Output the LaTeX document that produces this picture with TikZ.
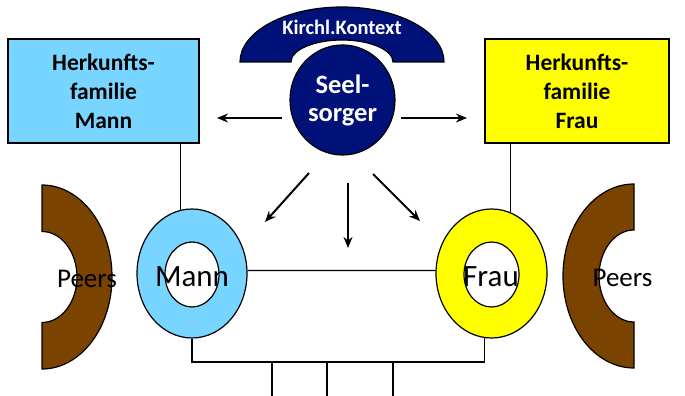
\documentclass[tikz,border=0pt]{standalone}
\usepackage{fontspec}
\setmainfont{Carlito}
\usetikzlibrary{shapes.geometric,arrows.meta}

\definecolor{mannblau}{RGB}{119,213,255}
\definecolor{fraugelb}{RGB}{255,255,0}
\definecolor{kirchblau}{RGB}{0,18,122}
\definecolor{peerbraun}{RGB}{122,68,0}

\tikzset{
  famkasten/.style={draw, line width=1.2pt, inner sep=0pt, minimum height=104pt,
    align=center, font={\fontsize{23.5}{29}\selectfont\bfseries}},
  ring/.style={ellipse, draw, line width=1.2pt, inner sep=0pt,
    minimum width=110pt, minimum height=129pt},
  lochring/.style={ellipse, draw, fill=white, line width=1.2pt, inner sep=0pt,
    minimum width=54pt, minimum height=65pt},
  ringtext/.style={anchor=base, font={\fontsize{31}{31}\selectfont}},
  peertext/.style={anchor=base, font={\fontsize{27}{27}\selectfont}},
  pfeil/.style={line width=2pt, -{Stealth[length=11pt,width=9pt]}},
  linie/.style={line width=1.2pt}
}

\begin{document}
\begin{tikzpicture}[x=1pt,y=1pt]
  \useasboundingbox (0,0) rectangle (685,396);

  % Herkunftsfamilien
  \node[famkasten, fill=mannblau, minimum width=191pt] (hfmann) at (103.5,305)
    {Herkunfts-\\familie\\Mann};
  \node[famkasten, fill=fraugelb, minimum width=184pt] (hffrau) at (577,305)
    {Herkunfts-\\familie\\Frau};

  % kirchlicher Kontext und Seelsorger
  \filldraw[fill=kirchblau, line width=1.2pt] (240,334)
    arc[start angle=180, end angle=0, x radius=102, y radius=55] -- (393,334)
    arc[start angle=0, end angle=180, x radius=51, y radius=22] -- cycle;
  \node[anchor=base, text=white, font={\fontsize{20.5}{20.5}\selectfont\bfseries}]
    (kontext) at (342,361) {Kirchl.Kontext};
  \node[ellipse, draw, fill=kirchblau, line width=1.2pt, inner sep=0pt,
    minimum width=105pt, minimum height=110pt, text=white, align=center,
    font={\fontsize{26.5}{28}\selectfont\bfseries}] (seelsorger) at (342.5,296)
    {Seel-\\sorger};

  % Peers
  \filldraw[fill=peerbraun, line width=1.2pt] (42,211)
    arc[start angle=90, end angle=-90, x radius=70, y radius=92] -- (42,73.5)
    arc[start angle=-90, end angle=90, x radius=35, y radius=45.5] -- cycle;
  \filldraw[fill=peerbraun, line width=1.2pt] (634,212)
    arc[start angle=90, end angle=270, x radius=71, y radius=92] -- (634,74)
    arc[start angle=270, end angle=90, x radius=35, y radius=46] -- cycle;

  % Paar
  \node[ring, fill=mannblau] (mann) at (192,122.5) {};
  \node[lochring] (mannloch) at (192,121.5) {};
  \node[ring, fill=fraugelb, minimum width=111pt] (frau) at (491.5,122.5) {};
  \node[lochring, minimum width=55pt] (frauloch) at (491.5,121.5) {};

  \node[peertext] (peerl) at (87,108) {Peers};
  \node[peertext] (peerr) at (622.5,109) {Peers};
  \node[ringtext] (manntext) at (192,109.3) {Mann};
  \node[ringtext] (frautext) at (491,109.3) {Frau};

  % Verbindungen
  \draw[linie] (mann.100) -- (mann.100 |- hfmann.south);
  \draw[linie] (frau.73) -- (frau.73 |- hffrau.south);
  \draw[linie] (mann.3) -- (frau.177);
  \coordinate (bus) at (0,34);
  \draw[linie] (mann.south) -- (mann.south |- bus) -- (frau.264 |- bus) -- (frau.264);
  \foreach \x/\n in {272/kind1, 327/kind2, 393/kind3} {
    \coordinate (\n) at (\x,0);
    \draw[linie] (\n |- bus) -- (\n);
  }

  % Pfeile vom Seelsorger
  \coordinate (zielhfm) at (217,278);
  \coordinate (zielhff) at (467,278);
  \coordinate (startm) at (309,223);
  \coordinate (zielm) at (265,174);
  \coordinate (startp) at (348,213);
  \coordinate (zielp) at (348,148);
  \coordinate (startf) at (373,222);
  \coordinate (zielf) at (420,175);
  \draw[pfeil, shorten <=7pt] (seelsorger.west |- zielhfm) -- (zielhfm);
  \draw[pfeil, shorten <=5pt] (seelsorger.east |- zielhff) -- (zielhff);
  \draw[pfeil] (startm) -- (zielm);
  \draw[pfeil] (startp) -- (zielp);
  \draw[pfeil] (startf) -- (zielf);
\end{tikzpicture}
\end{document}
